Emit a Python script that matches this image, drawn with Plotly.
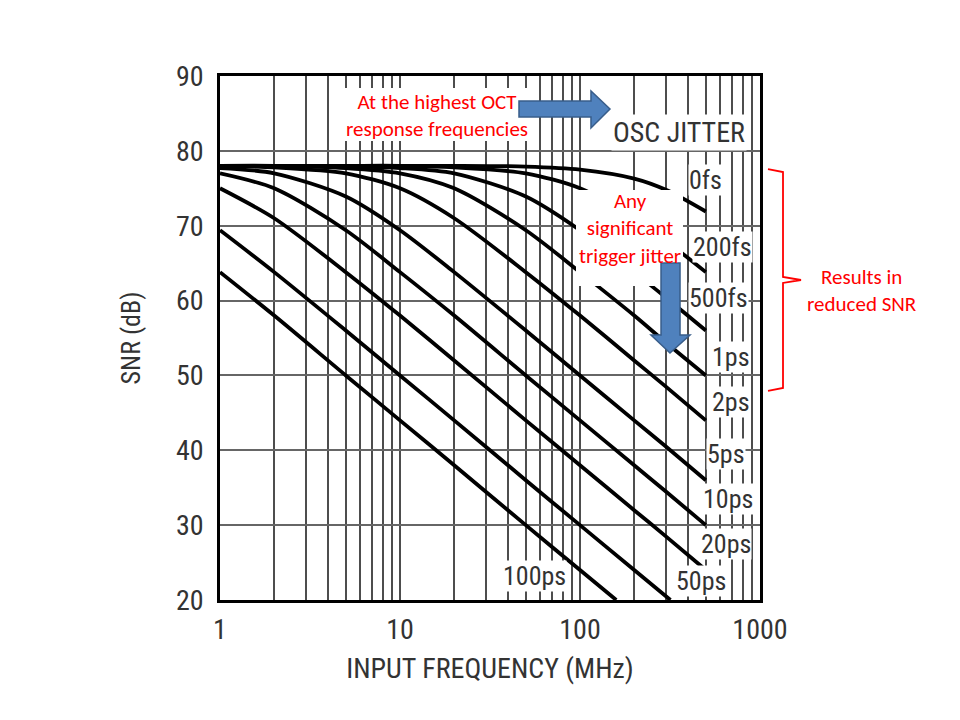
import numpy as np
import plotly.graph_objects as go

# Values: SNR (dB) vs input frequency (MHz)
freq = [1, 2, 5, 10, 20, 50, 100, 200, 300, 500]
snr_0fs = [78.0, 78.0, 78.0, 78.0, 78.0, 77.9, 77.5, 76.3, 74.8, 71.9]
snr_200fs = [78.0, 78.0, 78.0, 78.0, 77.8, 77.0, 75.0, 71.0, 68.0, 63.8]
snr_500fs = [78.0, 78.0, 77.9, 77.7, 77.0, 73.9, 69.4, 63.8, 60.4, 56.0]
snr_1ps = [78.0, 78.0, 77.7, 77.0, 75.0, 69.4, 63.8, 58.0, 54.4, 50.0]
snr_2ps = [78.0, 77.8, 77.0, 75.0, 71.0, 63.8, 58.0, 52.0, 48.5, 44.0]
snr_5ps = [77.7, 77.0, 73.9, 69.4, 63.8, 56.0, 50.0, 44.0, 40.5, 36.0]
snr_10ps = [77.0, 75.0, 69.4, 63.8, 58.0, 50.0, 44.0, 38.0, 34.5, 30.0]
snr_20ps = [75.0, 71.0, 63.8, 58.0, 52.0, 44.0, 38.0, 32.0, 28.5, 24.0]
freq_50ps = [1, 2, 5, 10, 20, 50, 100, 200, 318]
snr_50ps = [69.4, 63.8, 56.0, 50.0, 44.0, 36.0, 30.0, 24.0, 20.0]
freq_100ps = [1, 2, 5, 10, 20, 50, 100, 159]
snr_100ps = [63.8, 58.0, 50.0, 44.0, 38.0, 30.0, 24.0, 20.0]

jitter_labels = ["0fs", "200fs", "500fs", "1ps", "2ps", "5ps", "10ps", "20ps", "50ps", "100ps"]
label_x = [499, 621, 589, 687, 687, 645, 661, 645, 468, 56]
label_y = [76.1, 67.2, 60.4, 52.4, 46.5, 39.5, 33.5, 27.5, 22.5, 23.2]

x_ticks = [1, 10, 100, 1000]
x_minor = [m * d for d in [1, 10, 100] for m in range(2, 10)]

series = [
    (freq, snr_0fs), (freq, snr_200fs), (freq, snr_500fs), (freq, snr_1ps),
    (freq, snr_2ps), (freq, snr_5ps), (freq, snr_10ps), (freq, snr_20ps),
    (freq_50ps, snr_50ps), (freq_100ps, snr_100ps),
]

CHART_FONT = "Roboto Condensed"
NOTE_FONT = "Carlito"
RED = "#FF0000"
TEXT = "#333"

fig = go.Figure()
for (fx, fy), name in zip(series, jitter_labels):
    fig.add_trace(go.Scatter(
        x=fx, y=fy, mode="lines", name=name,
        line=dict(color="black", width=3.8, shape="spline", smoothing=0.8),
        showlegend=False, hoverinfo="x+y+name",
    ))

# plot area in window pixels: x 220..760, y 76..600
def px(x):
    return (x - 220) / 540.0

def py(y):
    return (600 - y) / 524.0

def path_of(points, close=True):
    p = "M " + " L ".join(f"{px(a):.4f},{py(b):.4f}" for a, b in points)
    return p + " Z" if close else p

shapes = []
# white boxes behind the two notes inside the plot
shapes.append(dict(type="rect", xref="paper", yref="paper", layer="above",
                   x0=px(345), x1=px(528), y0=py(141), y1=py(88),
                   fillcolor="white", line=dict(width=0)))
shapes.append(dict(type="rect", xref="paper", yref="paper", layer="above",
                   x0=px(576), x1=px(683), y0=py(286), y1=py(190),
                   fillcolor="white", line=dict(width=0)))
# blue block arrows
right_arrow = [(519, 101), (591, 101), (591, 91), (610, 109), (591, 128), (591, 117), (519, 117)]
shapes.append(dict(type="path", xref="paper", yref="paper", layer="above",
                   path=path_of(right_arrow), fillcolor="#4F81BD",
                   line=dict(color="#385D8A", width=1.5)))
down_arrow = [(661, 263), (680, 263), (680, 335), (690, 335), (670, 353), (651, 335), (661, 335)]
shapes.append(dict(type="path", xref="paper", yref="paper", layer="above",
                   path=path_of(down_arrow), fillcolor="#4F81BD",
                   line=dict(color="#385D8A", width=1.5)))
# red bracket
bracket = [(768, 169), (783, 172), (783, 277), (801, 280), (783, 283), (783, 388), (768, 391)]
shapes.append(dict(type="path", xref="paper", yref="paper", layer="above",
                   path=path_of(bracket, close=False), line=dict(color=RED, width=1.8)))

annotations = []
for lab, lx, ly in zip(jitter_labels, label_x, label_y):
    annotations.append(dict(x=np.log10(lx), y=ly, xref="x", yref="y", text=lab,
                            xanchor="center", yanchor="middle",
                            showarrow=False, bgcolor="white", borderpad=0,
                            font=dict(family=CHART_FONT, size=26, color=TEXT)))
annotations.append(dict(x=np.log10(354), y=82.5, xref="x", yref="y", text="OSC JITTER",
                        xanchor="center", yanchor="middle",
                        showarrow=False, bgcolor="white", borderpad=1,
                        font=dict(family=CHART_FONT, size=28, color=TEXT)))

notes = [
    ("At the highest OCT<br>response frequencies", 437, 115),
    ("Any<br>significant<br>trigger jitter", 630, 228),
    ("Results in<br>reduced SNR", 862, 290),
]
for txt, nx, ny in notes:
    annotations.append(dict(x=px(nx), y=py(ny), xref="paper", yref="paper", text=txt,
                            xanchor="center", yanchor="middle", showarrow=False,
                            font=dict(family=NOTE_FONT, size=21, color=RED)))

fig.update_layout(
    width=960, height=720, autosize=False,
    # page body adds 8px, so margins are 8px less than window positions
    margin=dict(l=212, r=208, t=68, b=128),
    paper_bgcolor="white", plot_bgcolor="white",
    font=dict(family=CHART_FONT, color=TEXT),
    shapes=shapes, annotations=annotations,
    xaxis=dict(
        type="log", range=[0, 3],
        tickmode="array", tickvals=x_ticks + x_minor,
        ticktext=[str(t) for t in x_ticks] + [""] * len(x_minor),
        showgrid=True, gridcolor="#4d4d4d", gridwidth=1.6,
        showline=True, linecolor="black", linewidth=2.5, mirror=True,
        ticks="", tickfont=dict(size=28, color=TEXT), ticklabelstandoff=3,
        title=dict(text="INPUT FREQUENCY (MHz)", font=dict(size=28, color=TEXT), standoff=14),
        zeroline=False,
    ),
    yaxis=dict(
        range=[20, 90], dtick=10,
        showgrid=True, gridcolor="#666", gridwidth=1.6,
        showline=True, linecolor="black", linewidth=2.5, mirror=True,
        ticks="", tickfont=dict(size=28, color=TEXT), ticklabelstandoff=8,
        title=dict(text="SNR (dB)", font=dict(size=26, color=TEXT), standoff=28),
        zeroline=False,
    ),
)

fig.write_html("out.html")
